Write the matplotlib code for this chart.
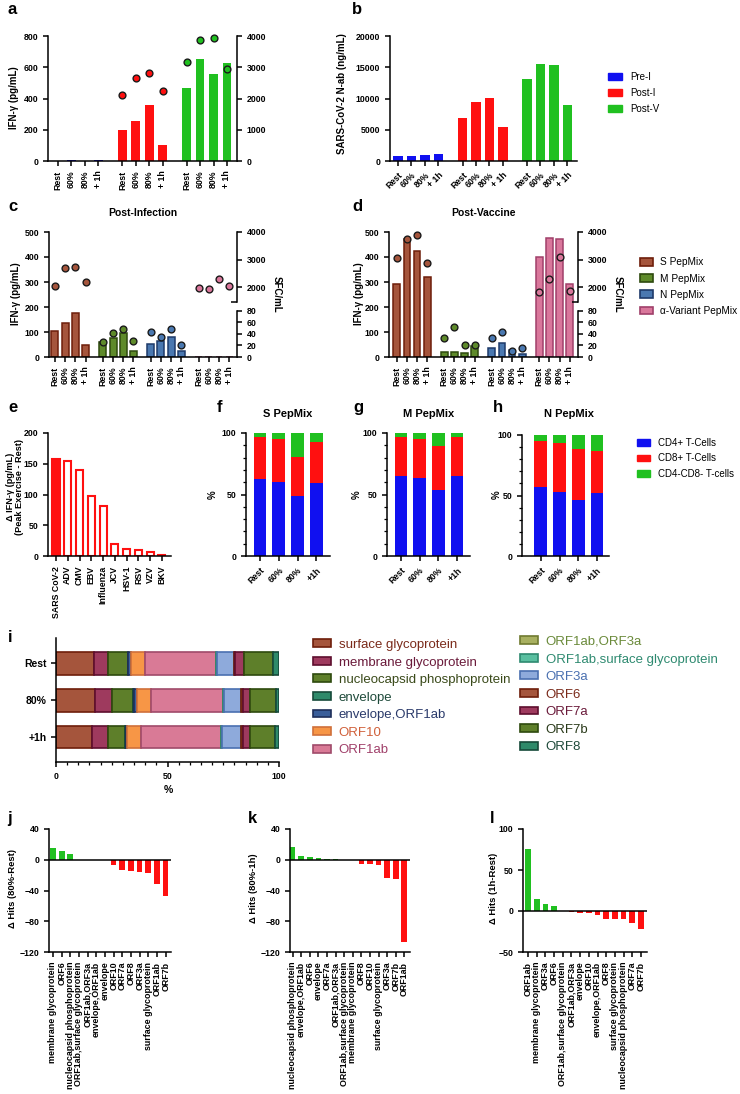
import matplotlib
matplotlib.use("Agg")
import matplotlib.pyplot as plt
import numpy as np
from matplotlib.patches import Patch
from matplotlib.ticker import MultipleLocator

# ---- data -------------------------------------------------------------
cond = ["Rest", "60%", "80%", "+ 1h"]
cond_f = ["Rest", "60%", "80%", "+1h"]

# a: IFN-g (bars, pg/mL) and SFC/mL (dots)
a_pre_ifn = [1, 8, 3, 8]
a_posti_ifn = [200, 258, 358, 105]
a_postv_ifn = [470, 650, 557, 630]
a_posti_sfc = [2125, 2665, 2830, 2235]
a_postv_sfc = [3160, 3860, 3940, 2960]

# b: N-ab (ng/mL)
b_pre = [860, 830, 1020, 1130]
b_posti = [6850, 9450, 10150, 5450]
b_postv = [13100, 15500, 15300, 8950]
b_groups = ["Pre-I", "Post-I", "Post-V"]

# c: post-infection, bars = IFN-g, dots = SFC/mL
pep_names = ["S PepMix", "M PepMix", "N PepMix", "α-Variant PepMix"]
c_ifn_s = [105, 138, 177, 50]
c_ifn_m = [60, 75, 97, 25]
c_ifn_n = [53, 64, 79, 23]
c_ifn_a = [0, 0, 0, 0]
c_sfc_s = [2048, 2682, 2718, 2176]
c_sfc_m = [25.3, 41.4, 48.9, 27.0]
c_sfc_n = [43.7, 34.5, 48.9, 20.7]
c_sfc_a = [1988, 1940, 2301, 2048]

# d: post-vaccine
d_ifn_s = [292, 474, 423, 321]
d_ifn_m = [19, 21, 16, 46]
d_ifn_n = [36, 56, 29, 13]
d_ifn_a = [400, 476, 471, 294]
d_sfc_s = [3072, 3747, 3892, 2892]
d_sfc_m = [32.8, 51.2, 21.3, 20.1]
d_sfc_n = [32.8, 43.2, 10.4, 15.0]
d_sfc_a = [1843, 2289, 3084, 1867]

# e: delta IFN-g by virus
e_viruses = ["SARS CoV-2", "ADV", "CMV", "EBV", "Influenza", "JCV", "HSV-1",
             "RSV", "VZV", "BKV"]
e_delta = [157, 155, 140, 97, 82, 19, 12, 9, 6, 2]

# f-h: T-cell composition (%)
cell_types = ["CD4+ T-Cells", "CD8+ T-Cells", "CD4-CD8- T-cells"]
f_cd4 = [62.7, 60.5, 48.8, 59.1]
f_cd8 = [33.8, 34.3, 31.9, 33.8]
f_dn = [3.5, 5.2, 19.3, 7.1]
g_cd4 = [65.4, 63.2, 53.7, 64.9]
g_cd8 = [31.1, 32.2, 35.4, 31.6]
g_dn = [3.5, 4.6, 10.9, 3.5]
h_cd4 = [56.9, 53.0, 46.1, 52.2]
h_cd8 = [38.1, 40.4, 42.3, 34.5]
h_dn = [5.0, 6.6, 11.6, 13.3]

# i: share of hits per protein (%)
i_labels = ["surface glycoprotein", "membrane glycoprotein",
            "nucleocapsid phosphoprotein", "envelope", "envelope,ORF1ab",
            "ORF10", "ORF1ab", "ORF1ab,ORF3a", "ORF1ab,surface glycoprotein",
            "ORF3a", "ORF6", "ORF7a", "ORF7b", "ORF8"]
i_rows = ["Rest", "80%", "+1h"]
i_rest = [17.2, 6.3, 8.7, 0.3, 1.0, 6.6, 31.6, 0.2, 0.2, 7.8, 0.4, 3.9, 13.1, 2.7]
i_80 = [17.5, 7.8, 9.4, 0.4, 1.2, 6.3, 32.2, 0.2, 0.2, 7.8, 0.7, 3.3, 11.6, 1.4]
i_1h = [16.3, 7.2, 7.5, 0.3, 0.6, 6.1, 36.0, 0.2, 0.2, 8.7, 0.6, 3.1, 11.5, 1.7]

# j-l: delta hits
j_labels = ["membrane glycoprotein", "ORF6", "nucleocapsid phosphoprotein",
            "ORF1ab,surface glycoprotein", "ORF1ab,ORF3a", "envelope,ORF1ab",
            "envelope", "ORF10", "ORF7a", "ORF8", "ORF3a",
            "surface glycoprotein", "ORF1ab", "ORF7b"]
j_vals = [14.8, 10.9, 7.0, 0, 0, 0, 0, -7.4, -13.1, -14.0, -15.3, -16.6, -31.4, -46.7]
k_labels = ["nucleocapsid phosphoprotein", "envelope,ORF1ab", "ORF6", "envelope",
            "ORF7a", "ORF1ab,ORF3a", "ORF1ab,surface glycoprotein",
            "membrane glycoprotein", "ORF8", "ORF10", "surface glycoprotein",
            "ORF3a", "ORF7b", "ORF1ab"]
k_vals = [16.5, 4.3, 3.5, 2.2, 0.9, 0.5, 0, 0, -5.2, -5.2, -6.5, -24.3, -25.2, -107]
l_labels = ["ORF1ab", "membrane glycoprotein", "ORF3a", "ORF6",
            "ORF1ab,surface glycoprotein", "ORF1ab,ORF3a", "envelope", "ORF10",
            "envelope,ORF1ab", "ORF8", "surface glycoprotein",
            "nucleocapsid phosphoprotein", "ORF7a", "ORF7b"]
l_vals = [75.2, 14.6, 8.5, 6.5, 0, -0.8, -2.4, -2.4, -5.3, -9.3, -10.2, -10.2, -14.2, -21.5]

# ---- style ------------------------------------------------------------
BLUE, RED, GREEN = "#1010F0", "#FF1010", "#20C020"
PEP_FILL = ["#A5553C", "#5E8A2A", "#4A78B0", "#D9779B"]
PEP_EDGE = ["#6E1E0A", "#2E4A0E", "#1E3A6A", "#A0406A"]
I_FILL = ["#A5553C", "#9E3A5E", "#5E7F2A", "#2E8A6A", "#3A5E9A", "#F79646",
          "#D97A96", "#A8B060", "#5ABFA0", "#8EAADB", "#A5553C", "#9E3A5E",
          "#5E7F2A", "#2E8A6A"]
I_EDGE = ["#6E1E0A", "#5E0E2E", "#2E4A0E", "#164A3A", "#1E2E5A", "#D0703A",
          "#A04A6A", "#707A30", "#2E8A70", "#4A70B0", "#6E1E0A", "#5E0E2E",
          "#2E4A0E", "#164A3A"]
I_TEXT = ["#7A2A1A", "#6A1A3A", "#3A4A1A", "#1E4A3A", "#2A3A6A", "#D0603A",
          "#A0406A", "#6A8A3A", "#2E8A70", "#4A70B0", "#7A2A1A", "#6A1A3A",
          "#2A3A1A", "#1E4A3A"]

plt.rcParams["font.family"] = ["Liberation Sans", "DejaVu Sans"]
plt.rcParams["font.weight"] = "bold"
plt.rcParams["axes.linewidth"] = 1.1

W, H = 740, 1094
fig = plt.figure(figsize=(W / 100, H / 100), dpi=100)


def add_ax(x0, y0, x1, y1):
    return fig.add_axes([x0 / W, 1 - y1 / H, (x1 - x0) / W, (y1 - y0) / H])


def ftext(x, y, s, **kw):
    fig.text(x / W, 1 - y / H, s, **kw)


def clean(ax, fs=6.3):
    ax.spines["top"].set_visible(False)
    ax.spines["right"].set_visible(False)
    ax.tick_params(width=1.1, length=3.5, labelsize=fs)


def twin_clean(t):
    for s in ("top", "left", "bottom"):
        t.spines[s].set_visible(False)
    t.tick_params(axis="y", width=1.1, length=3.5, labelsize=6.3)


def legend_at(x, y, handles, labels, fs, lsp, hl, htp, hh=0.7):
    return fig.legend(handles, labels, loc="upper left",
                      bbox_to_anchor=(x / W, 1 - y / H), frameon=False,
                      prop={"size": fs, "weight": "normal"}, borderpad=0,
                      borderaxespad=0, labelspacing=lsp, handlelength=hl,
                      handletextpad=htp, handleheight=hh)


def dots(ax, x, y, color):
    ax.scatter(x, y, s=24, color=color, edgecolor="#1a1a1a", linewidth=1.0,
               zorder=5, clip_on=False)


base = np.arange(4)

# ---- a ----------------------------------------------------------------
ax = add_ax(48, 36, 237, 161)
clean(ax)
off = 4.8
for g, (vals, col) in enumerate([(a_pre_ifn, BLUE), (a_posti_ifn, RED),
                                 (a_postv_ifn, GREEN)]):
    ax.bar(base + g * off, vals, width=0.65, color=col)
ax.set_xlim(-0.75, 13.35)
ax.set_ylim(0, 800)
ax.set_yticks(range(0, 801, 200))
ax.set_xticks(np.concatenate([base + g * off for g in range(3)]), cond * 3,
              rotation=90)
t = ax.twinx()
twin_clean(t)
t.set_ylim(0, 4000)
t.set_yticks(range(0, 4001, 1000))
dots(t, base + off, a_posti_sfc, RED)
dots(t, base + 2 * off, a_postv_sfc, GREEN)
ftext(14, 98, "IFN-γ (pg/mL)", rotation=90, ha="center", va="center", fontsize=7)

# ---- b ----------------------------------------------------------------
ax = add_ax(390, 36, 577, 161)
clean(ax)
for g, (vals, col) in enumerate([(b_pre, BLUE), (b_posti, RED), (b_postv, GREEN)]):
    ax.bar(base + g * off, vals, width=0.7, color=col)
ax.set_xlim(-0.6, 13.32)
ax.set_ylim(0, 20000)
ax.set_yticks(range(0, 20001, 5000))
ax.set_xticks(np.concatenate([base + g * off for g in range(3)]), cond * 3,
              rotation=45, ha="right", rotation_mode="anchor")
ftext(342, 94, "SARS-CoV-2 N-ab (ng/mL)", rotation=90, ha="center",
      va="center", fontsize=7)
legend_at(608, 71.5, [Patch(color=c) for c in (BLUE, RED, GREEN)], b_groups,
          7, 0.62, 1.45, 0.8)

# ---- c / d --------------------------------------------------------------
pos4 = 4.68


def pep_panel(box, xlim, bw, ifn, sfc, title, lab_x, sfc_x, title_y):
    ax = add_ax(*box)
    clean(ax)
    for g in range(4):
        ax.bar(base + g * pos4, ifn[g], width=bw, color=PEP_FILL[g],
               edgecolor=PEP_EDGE[g], linewidth=1.1)
    ax.set_xlim(*xlim)
    ax.set_ylim(0, 500)
    ax.set_yticks(range(0, 501, 100))
    ax.set_xticks(np.concatenate([base + g * pos4 for g in range(4)]),
                  cond * 4, rotation=90)
    low = ax.twinx()
    twin_clean(low)
    low.set_ylim(0, 216.9)
    low.spines["right"].set_bounds(0, 80)
    low.set_yticks(range(0, 81, 20))
    up = ax.twinx()
    twin_clean(up)
    up.set_ylim(-515, 4000)
    up.spines["right"].set_bounds(1485, 4000)
    up.set_yticks([2000, 3000, 4000])
    up.set_yticks([1485], minor=True)
    up.tick_params(axis="y", which="minor", direction="in", length=4, width=1.1)
    dots(up, base, sfc[0], PEP_FILL[0])
    dots(low, base + pos4, sfc[1], PEP_FILL[1])
    dots(low, base + 2 * pos4, sfc[2], PEP_FILL[2])
    dots(up, base + 3 * pos4, sfc[3], PEP_FILL[3])
    cx = (box[0] + box[2]) / 2
    ftext(cx, title_y, title, ha="center", va="baseline", fontsize=7.5)
    ftext(lab_x, 294, "IFN-γ (pg/mL)", rotation=90, ha="center",
          va="center", fontsize=7)
    ftext(sfc_x, 294, "SFC/mL", rotation=270, ha="center", va="center",
          fontsize=7)


pep_panel((49, 232, 237, 357), (-0.58, 17.8), 0.68,
          [c_ifn_s, c_ifn_m, c_ifn_n, c_ifn_a],
          [c_sfc_s, c_sfc_m, c_sfc_n, c_sfc_a], "Post-Infection", 16, 277, 216)
pep_panel((389, 232, 578, 357), (-0.77, 17.85), 0.66,
          [d_ifn_s, d_ifn_m, d_ifn_n, d_ifn_a],
          [d_sfc_s, d_sfc_m, d_sfc_n, d_sfc_a], "Post-Vaccine", 359, 618, 216)
legend_at(640, 257.5,
          [Patch(facecolor=PEP_FILL[g], edgecolor=PEP_EDGE[g], linewidth=1.2)
           for g in range(4)], pep_names, 7.3, 0.6, 1.33, 0.65, 0.75)

# ---- e ----------------------------------------------------------------
ax = add_ax(48, 433, 171, 556)
clean(ax)
xe = np.arange(len(e_delta))
ax.bar(xe, e_delta, width=0.6, color=[RED] + ["white"] * (len(e_delta) - 1),
       edgecolor=RED, linewidth=1.5)
ax.set_xlim(-0.68, 9.77)
ax.set_ylim(0, 200)
ax.set_yticks(range(0, 201, 50))
ax.set_xticks(xe, e_viruses, rotation=90)
ftext(15, 487, "Δ IFN-γ (pg/mL)\n(Peak Exercise - Rest)", rotation=90,
      ha="center", va="center", fontsize=6.6, linespacing=1.0)


# ---- f / g / h ----------------------------------------------------------
def stack_panel(box, xlim, cd4, cd8, dn, title, title_x, lab_x):
    ax = add_ax(*box)
    clean(ax)
    ax.bar(base, cd4, width=0.67, color=BLUE)
    ax.bar(base, cd8, bottom=cd4, width=0.67, color=RED)
    ax.bar(base, dn, bottom=np.add(cd4, cd8), width=0.67, color=GREEN)
    ax.set_xlim(*xlim)
    ax.set_ylim(0, 100)
    ax.set_yticks([0, 50, 100])
    ax.yaxis.set_minor_locator(MultipleLocator(10))
    ax.tick_params(axis="y", which="minor", length=2, width=0.9)
    ax.set_xticks(base, cond_f, rotation=45, ha="right", rotation_mode="anchor")
    ftext(title_x, 417, title, ha="center", va="baseline", fontsize=8)
    ftext(lab_x, 495, "%", rotation=90, ha="center", va="center", fontsize=7)


stack_panel((246, 433, 330, 556), (-0.74, 3.72), f_cd4, f_cd8, f_dn,
            "S PepMix", 288, 213)
stack_panel((387, 433, 470, 556), (-0.74, 3.69), g_cd4, g_cd8, g_dn,
            "M PepMix", 429, 357)
stack_panel((522, 435, 609, 556), (-1.0, 3.64), h_cd4, h_cd8, h_dn,
            "N PepMix", 569, 497)
legend_at(637, 437.5, [Patch(color=c) for c in (BLUE, RED, GREEN)],
          cell_types, 7, 0.6, 1.35, 0.8)

# ---- i ----------------------------------------------------------------
ax = add_ax(56, 638, 279, 762)
clean(ax)
rows = [i_rest, i_80, i_1h]
yi = np.arange(3)
left = np.zeros(3)
for k in range(len(i_labels)):
    vals = np.array([r[k] for r in rows])
    ax.barh(yi, vals, left=left, height=0.62, color=I_FILL[k],
            edgecolor=I_EDGE[k], linewidth=1.2)
    left += vals
ax.set_ylim(2.68, -0.69)
ax.set_xlim(0, 100)
ax.set_yticks(yi, i_rows, fontsize=7.5)
ax.set_xticks([0, 50, 100])
ax.xaxis.set_minor_locator(MultipleLocator(5))
ax.tick_params(axis="x", which="minor", length=2, width=0.9)
ftext(168, 790, "%", ha="center", va="center", fontsize=7.5)
handles = [Patch(facecolor=I_FILL[k], edgecolor=I_EDGE[k], linewidth=1.2)
           for k in range(len(i_labels))]
for col, (x, y) in enumerate([(313, 639), (520, 636)]):
    sl = slice(col * 7, col * 7 + 7)
    leg = legend_at(x, y, handles[sl], i_labels[sl], 9.5, 0.42, 1.35, 0.6, 0.55)
    for txt, c in zip(leg.get_texts(), I_TEXT[sl]):
        txt.set_color(c)


# ---- j / k / l ----------------------------------------------------------
def hits_panel(box, xlim, labels, vals, ylim, yticks, ylab, lab_x):
    ax = add_ax(*box)
    clean(ax)
    xh = np.arange(len(vals))
    ax.bar(xh, vals, width=0.66, color=[GREEN if v > 0 else RED for v in vals])
    ax.axhline(0, color="black", linewidth=1.1)
    ax.set_xlim(*xlim)
    ax.set_ylim(*ylim)
    ax.set_yticks(yticks)
    ax.set_xticks(xh, labels, rotation=90, fontsize=6.4)
    ftext(lab_x, 888, ylab, rotation=90, ha="center", va="center", fontsize=6.8)


hits_panel((49, 829, 171, 952), (-0.46, 13.62), j_labels, j_vals, (-120, 40),
           [-120, -80, -40, 0, 40], "Δ Hits (80%-Rest)", 13)
hits_panel((290, 829, 410, 952), (-0.31, 13.66), k_labels, k_vals, (-120, 40),
           [-120, -80, -40, 0, 40], "Δ Hits (80%-1h)", 253)
hits_panel((523, 829, 647, 952), (-0.58, 13.7), l_labels, l_vals, (-50, 100),
           [-50, 0, 50, 100], "Δ Hits (1h-Rest)", 494)

# ---- panel letters ------------------------------------------------------
for s, x, y in [("a", 8, 14), ("b", 352, 14), ("c", 8, 211), ("d", 352, 211),
                ("e", 8, 412), ("f", 217, 412), ("g", 353, 412), ("h", 493, 412),
                ("i", 8, 642), ("j", 7, 823), ("k", 248, 823), ("l", 490, 823)]:
    ftext(x, y, s, fontsize=12, va="baseline", ha="left")

fig.savefig("out.png", dpi=100)
